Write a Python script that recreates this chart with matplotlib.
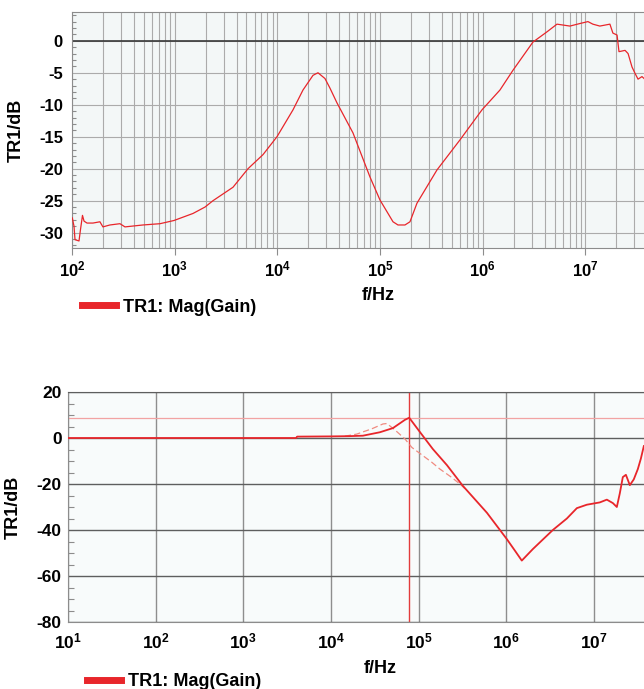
import numpy as np
import matplotlib
matplotlib.use("Agg")
import matplotlib.pyplot as plt
from matplotlib.ticker import FixedLocator, FixedFormatter, MultipleLocator, LogLocator, NullFormatter
from matplotlib.lines import Line2D

plt.rcParams['font.family'] = ['Liberation Sans', 'DejaVu Sans']
plt.rcParams['axes.unicode_minus'] = False

# ---- upper plot: measured gain (Hz, dB) ----
top_freq = [100.7, 104.6, 107, 117, 121, 126.5, 131, 140, 160, 187, 200, 234, 293, 328,
            491, 719, 984, 1507, 1972, 2361, 3697, 5177, 7244, 9911, 14190, 17750,
            22230, 24850, 29060, 32500, 38020, 54450, 79750, 99800, 133600, 149400,
            174700, 195500, 228600, 358000, 599600, 982500, 1.47e6, 1.97e6, 3.08e6,
            4.22e6, 5.28e6, 7.06e6, 8.84e6, 1.057e7, 1.18e7, 1.38e7, 1.73e7, 1.85e7,
            2.03e7, 2.12e7, 2.43e7, 2.60e7, 2.84e7, 3.04e7, 3.25e7, 3.55e7, 3.72e7]
top_db = [-27.7, -29.0, -31.1, -31.3, -29.5, -27.3, -28.2, -28.5, -28.5, -28.3, -29.1,
          -28.8, -28.6, -29.1, -28.8, -28.6, -28.1, -27.0, -26.0, -25.0, -22.9, -20.0,
          -17.8, -15.0, -10.8, -7.7, -5.4, -5.0, -5.9, -7.4, -9.7, -14.4, -21.3, -24.9,
          -28.3, -28.8, -28.8, -28.3, -25.4, -20.2, -15.5, -10.8, -7.7, -4.6, -0.2,
          1.4, 2.6, 2.3, 2.7, 3.0, 2.6, 2.3, 2.6, 1.2, 0.9, -1.7, -1.5, -2.0, -4.1,
          -5.1, -6.0, -5.6, -5.9]
top_decades = [2, 3, 4, 5, 6, 7]

# ---- lower plot: gain with cursor at the resonance peak ----
bot_freq = [10, 4000, 4100, 10000, 16000, 23100, 36100, 50800, 69700, 78000,
            103300, 145000, 210000, 319000, 600000, 1.014e6, 1.28e6, 1.50e6,
            2.004e6, 3.39e6, 4.90e6, 6.37e6, 8.28e6, 1.165e7, 1.40e7, 1.64e7,
            1.82e7, 1.97e7, 2.13e7, 2.31e7, 2.56e7, 2.84e7, 3.16e7, 3.42e7, 3.70e7]
bot_db = [0.0, 0.0, 0.6, 0.7, 0.8, 1.0, 2.5, 4.3, 7.9, 8.8,
          2.6, -4.8, -11.8, -20.8, -32.5, -44.0, -49.5, -53.3,
          -48.3, -40.0, -35.0, -30.5, -29.0, -28.0, -26.8, -28.3,
          -30.0, -24.0, -17.0, -16.0, -20.5, -18.0, -13.5, -9.0, -3.5]
ref_freq = [14400, 19700, 29200, 39100, 43400, 53600, 69700, 83600, 141600,
            174600, 239300, 295000, 336700]
ref_db = [0.8, 1.7, 4.0, 6.1, 6.3, 3.5, -0.4, -4.1, -10.6, -13.5, -17.2, -20.0, -22.0]
peak_freq = 78000
peak_db = 8.8
bot_decades = [1, 2, 3, 4, 5, 6, 7]

RED = '#e8262b'
W, H = 644, 689

fig = plt.figure(figsize=(W / 100, H / 100), dpi=100)
ax1 = fig.add_axes([72 / W, 1 - 248 / H, 572 / W, 236 / H])
ax2 = fig.add_axes([68 / W, 1 - 622 / H, 576 / W, 230 / H])


def dec_labels(decs):
    return ['$\\mathregular{10^{%d}}$' % d for d in decs]


# ---------- upper axes ----------
ax1.set_facecolor('#f3f7f7')
ax1.set_xscale('log')
ax1.set_xlim(1e2, 10 ** 7.57)
ax1.set_ylim(-32.4, 4.5)
ax1.xaxis.set_major_locator(FixedLocator([10.0 ** d for d in top_decades]))
ax1.xaxis.set_major_formatter(FixedFormatter(dec_labels(top_decades)))
ax1.xaxis.set_minor_locator(LogLocator(base=10, subs=np.arange(2, 10), numticks=100))
ax1.xaxis.set_minor_formatter(NullFormatter())
ax1.yaxis.set_major_locator(MultipleLocator(5))
ax1.yaxis.set_minor_locator(MultipleLocator(1))
ax1.grid(which='both', axis='x', color='#ababab', lw=0.8, zorder=1)
ax1.grid(which='major', axis='y', color='#ababab', lw=0.8, zorder=1)
ax1.axhline(0, color='#383838', lw=1.2, zorder=2)
ax1.plot(top_freq, top_db, color=RED, lw=0.9, zorder=3)
for s in ['top', 'left', 'bottom']:
    ax1.spines[s].set_color('#8c8c8c')
ax1.spines['right'].set_visible(False)
ax1.tick_params(axis='y', which='both', direction='in', color='#8c8c8c')
ax1.tick_params(axis='y', which='major', length=0, pad=6.5, labelsize=12)
ax1.tick_params(axis='y', which='minor', length=3, width=0.8)
ax1.tick_params(axis='x', which='major', direction='out', length=5, color='#8c8c8c',
                pad=3, labelsize=12)
ax1.tick_params(axis='x', which='minor', length=0)
for lab in ax1.get_xticklabels() + ax1.get_yticklabels():
    lab.set_fontweight('bold')
ax1.set_ylabel('TR1/dB', fontsize=13, fontweight='bold')
ax1.yaxis.set_label_coords(-0.082, 0.5)
ax1.set_xlabel('f/Hz', fontsize=13, fontweight='bold')
ax1.xaxis.set_label_coords(0.535, -0.165)
fig.legend(handles=[Line2D([], [], color=RED, lw=5)], labels=['TR1: Mag(Gain)'],
           loc='center left', bbox_to_anchor=(82 / W, 1 - 307 / H), frameon=False,
           borderpad=0, borderaxespad=0, handlelength=1.9, handletextpad=0.35,
           prop={'size': 13, 'weight': 'bold'})

# ---------- lower axes ----------
ax2.set_facecolor('#f8fbfb')
ax2.set_xscale('log')
ax2.set_xlim(10, 10 ** 7.57)
ax2.set_ylim(-80, 20)
ax2.xaxis.set_major_locator(FixedLocator([10.0 ** d for d in bot_decades]))
ax2.xaxis.set_major_formatter(FixedFormatter(dec_labels(bot_decades)))
ax2.xaxis.set_minor_locator(FixedLocator([]))
ax2.yaxis.set_major_locator(MultipleLocator(20))
ax2.yaxis.set_minor_locator(MultipleLocator(5))
ax2.grid(which='major', axis='x', color='#8e8e8e', lw=1.0, zorder=1)
ax2.grid(which='major', axis='y', color='#5e5e5e', lw=1.0, zorder=1)
ax2.axhline(peak_db, color='#f2a3a3', lw=0.9, zorder=2)
ax2.axvline(peak_freq, color='#e23c3c', lw=1.0, zorder=2)
ax2.plot(ref_freq, ref_db, color='#f08a80', lw=0.9, ls=(0, (5, 2.5)), zorder=3)
ax2.plot(bot_freq, bot_db, color=RED, lw=1.3, zorder=4)
for s in ['left', 'bottom']:
    ax2.spines[s].set_color('#8c8c8c')
ax2.spines['top'].set_color('#5e5e5e')
ax2.spines['right'].set_visible(False)
ax2.tick_params(axis='y', which='both', direction='in', color='#8c8c8c')
ax2.tick_params(axis='y', which='major', length=0, pad=4.5, labelsize=12.5)
ax2.tick_params(axis='y', which='minor', length=4, width=0.8)
ax2.tick_params(axis='x', which='both', length=0, pad=7, labelsize=12.5)
for lab in ax2.get_xticklabels() + ax2.get_yticklabels():
    lab.set_fontweight('bold')
ax2.set_ylabel('TR1/dB', fontsize=13, fontweight='bold')
ax2.yaxis.set_label_coords(-0.080, 0.5)
ax2.set_xlabel('f/Hz', fontsize=13, fontweight='bold')
ax2.xaxis.set_label_coords(0.542, -0.165)
fig.legend(handles=[Line2D([], [], color=RED, lw=5)], labels=['TR1: Mag(Gain)'],
           loc='center left', bbox_to_anchor=(87 / W, 1 - 682 / H), frameon=False,
           borderpad=0, borderaxespad=0, handlelength=1.9, handletextpad=0.35,
           prop={'size': 13, 'weight': 'bold'})

fig.savefig('out.png', dpi=100)
